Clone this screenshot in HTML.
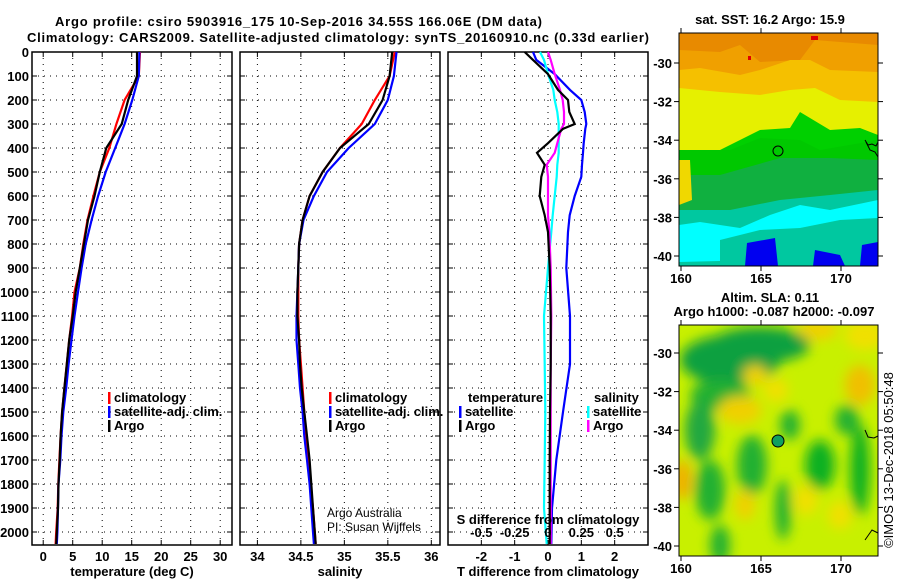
<!DOCTYPE html>
<html><head><meta charset="utf-8">
<style>
html,body{margin:0;padding:0;background:#fff;}
svg{display:block;font-family:"Liberation Sans",Arial,sans-serif;}
.b{font-weight:bold;font-size:13px;}
</style></head>
<body>
<svg id="s" width="900" height="580" viewBox="0 0 900 580" xmlns="http://www.w3.org/2000/svg">
<defs>
<filter id="blur" x="-20%" y="-20%" width="140%" height="140%"><feGaussianBlur stdDeviation="6"/></filter>
<clipPath id="c1"><rect x="679" y="33" width="199" height="233"/></clipPath>
<clipPath id="c2"><rect x="679" y="325" width="199" height="231"/></clipPath>
</defs>
<text class="b" x="55" y="26" font-size="14" textLength="487">Argo profile: csiro 5903916_175 10-Sep-2016 34.55S 166.06E (DM data)</text>
<text class="b" x="27" y="42" font-size="14" textLength="622">Climatology: CARS2009. Satellite-adjusted climatology: synTS_20160910.nc (0.33d earlier)</text>

<!-- SST map -->
<g clip-path="url(#c1)">
<rect x="679" y="33" width="199" height="233" fill="#e88a00"/>
<polygon points="679,50 720,52 740,45 760,62 800,60 815,40 878,45 878,120 679,120" fill="#f0a000"/>
<polygon points="679,70 700,68 740,75 760,70 790,60 810,60 830,70 878,72 878,140 679,140" fill="#f5c000"/>
<polygon points="679,88 720,92 760,95 790,90 815,88 840,100 878,102 878,160 679,160" fill="#e6f000"/>
<polygon points="679,170 700,160 760,130 790,128 800,112 830,130 860,128 878,135 878,266 679,266" fill="#00d000"/>
<polygon points="679,150 730,150 760,138 800,140 820,150 878,140 878,266 679,266" fill="#00c800"/>
<polygon points="679,175 720,175 780,158 830,158 878,160 878,266 679,266" fill="#10b040"/>
<polygon points="679,160 690,160 692,200 679,205" fill="#f0d800"/>
<polygon points="679,210 730,210 780,200 830,195 878,190 878,266 679,266" fill="#00c8a0"/>
<polygon points="679,225 700,222 740,228 770,215 800,205 830,210 878,200 878,266 780,266 760,260 679,262" fill="#00ffff"/>
<polygon points="720,240 760,230 800,228 840,220 878,218 878,266 720,266" fill="#00c8a0"/>
<polygon points="745,266 747,243 775,238 778,266" fill="#0000f0"/>
<polygon points="813,266 815,250 840,255 845,266" fill="#0000f0"/>
<polygon points="860,266 862,245 878,242 878,266" fill="#0000f0"/>
<rect x="748" y="56" width="3" height="4" fill="#e00000"/>
<rect x="811" y="36" width="7" height="4" fill="#e00000"/>
</g>
<rect x="679" y="33" width="199" height="233" fill="none" stroke="#000"/>
<path d="M865,140 L868,145 L872,144 L876,146 L878,142 M866,142 L870,150 L875,152 L878,157" fill="none" stroke="#000"/>
<circle cx="778" cy="151" r="5" fill="none" stroke="#000"/>
<text class="b" x="770" y="24" text-anchor="middle">sat. SST: 16.2 Argo: 15.9</text>

<!-- SLA map -->
<g clip-path="url(#c2)">
<rect x="679" y="325" width="199" height="231" fill="#c8f000"/>
<g filter="url(#blur)">
<ellipse cx="730" cy="360" rx="50" ry="25" fill="#10a040"/>
<ellipse cx="760" cy="345" rx="50" ry="18" fill="#10a040"/>
<ellipse cx="720" cy="395" rx="30" ry="15" fill="#20b030"/>
<ellipse cx="740" cy="410" rx="22" ry="14" fill="#f0d000"/>
<ellipse cx="755" cy="375" rx="12" ry="10" fill="#f0d000"/>
<ellipse cx="776" cy="390" rx="12" ry="12" fill="#f0e000"/>
<ellipse cx="700" cy="430" rx="15" ry="30" fill="#20a840"/>
<ellipse cx="752" cy="465" rx="15" ry="30" fill="#20b030"/>
<ellipse cx="820" cy="465" rx="15" ry="25" fill="#10b020"/>
<ellipse cx="860" cy="470" rx="10" ry="45" fill="#10b020"/>
<ellipse cx="847" cy="420" rx="12" ry="15" fill="#20b030"/>
<ellipse cx="860" cy="385" rx="15" ry="20" fill="#f0c000"/>
<ellipse cx="682" cy="480" rx="10" ry="20" fill="#f0b000"/>
<ellipse cx="710" cy="490" rx="15" ry="30" fill="#20b030"/>
<ellipse cx="745" cy="505" rx="10" ry="15" fill="#f0d000"/>
<ellipse cx="806" cy="500" rx="12" ry="15" fill="#f0e000"/>
<ellipse cx="840" cy="515" rx="12" ry="14" fill="#f0e000"/>
<ellipse cx="783" cy="510" rx="8" ry="30" fill="#20b030"/>
<ellipse cx="720" cy="545" rx="10" ry="20" fill="#20b030"/>
<ellipse cx="790" cy="425" rx="10" ry="15" fill="#20b030"/>
<ellipse cx="865" cy="335" rx="20" ry="15" fill="#f0e000"/>
<ellipse cx="818" cy="330" rx="20" ry="10" fill="#f0d000"/>
</g>
</g>
<rect x="679" y="325" width="199" height="231" fill="none" stroke="#000"/>
<path d="M865,430 L868,437 L874,438 L878,436 M865,540 L872,530 L878,533" fill="none" stroke="#000"/>
<circle cx="778" cy="441" r="6" fill="#10a060" stroke="#000"/>
<text class="b" x="770" y="302" text-anchor="middle">Altim. SLA: 0.11</text>
<text class="b" x="774" y="316" text-anchor="middle">Argo h1000: -0.087 h2000: -0.097</text>
<text x="893" y="460" font-size="13" text-anchor="middle" transform="rotate(-90 893 460)" dy="0">©IMOS 13-Dec-2018 05:50:48</text>
<g id="maps"></g>
<g id="plots"></g>
</svg>
<script>
// ---- data ----
const depths = [0,100,200,300,400,500,600,700,800,900,1000,1100,1200,1300,1400,1500,1600,1700,1800,1900,2000,2050];
const tempArgo = [15.9,15.9,14.4,13.3,10.7,9.6,8.7,7.6,6.9,6.2,5.5,5.0,4.4,4.0,3.6,3.2,2.95,2.8,2.6,2.5,2.3,2.2];
const tempClim = [16.4,16.2,13.8,12.4,11.2,9.6,8.5,7.5,6.8,6.2,5.3,4.9,4.4,4.0,3.6,3.2,2.95,2.75,2.55,2.45,2.2,2.1];
const tempSat  = [16.3,16.2,15.1,13.8,12.2,10.6,9.3,8.2,7.2,6.5,5.9,5.3,4.8,4.3,3.9,3.4,3.1,2.9,2.6,2.5,2.4,2.3];
const salArgo = [35.55,35.52,35.44,35.28,34.95,34.75,34.60,34.52,34.48,34.47,34.46,34.46,34.48,34.49,34.51,34.54,34.57,34.60,34.62,34.64,34.66,34.67];
const salClim = [35.58,35.52,35.35,35.20,34.95,34.75,34.60,34.52,34.48,34.47,34.47,34.47,34.48,34.50,34.52,34.54,34.56,34.59,34.61,34.64,34.66,34.67];
const salSat  = [35.60,35.57,35.50,35.35,35.05,34.80,34.65,34.53,34.48,34.47,34.46,34.45,34.45,34.47,34.49,34.52,34.54,34.57,34.60,34.62,34.64,34.65];
const diffDepths = [0,33,92,158,200,250,300,320,380,420,470,520,600,680,750,900,1100,1300,1500,1700,1900,2050];
const dTArgo = [-0.7,-0.45,0,0.3,0.6,0.64,0.8,0.45,0,-0.33,-0.1,-0.2,-0.25,-0.1,0,0.05,0.08,0.08,0.06,0.05,0.05,0.05];
const dTSat  = [-0.45,-0.35,0.2,0.66,1.0,1.1,1.15,1.12,1.07,1.05,1.02,1.0,0.8,0.65,0.6,0.55,0.66,0.66,0.45,0.25,0.12,0.1];
const dSSat  = [-0.06,-0.03,0,0.04,0.05,0.07,0.08,0.08,0.08,0.08,0.07,0.065,0.05,0.035,0.025,0,-0.03,-0.025,-0.02,-0.025,-0.03,-0.01];
const dSArgo = [0,0.02,0.05,0.09,0.11,0.12,0.12,0.1,0.07,0.05,-0.01,0,0,0,0.01,0.02,0.025,0.02,0.02,0.02,0.02,0.02];
const depthTicks = [0,100,200,300,400,500,600,700,800,900,1000,1100,1200,1300,1400,1500,1600,1700,1800,1900,2000];
const tempTicks = [0,5,10,15,20,25,30];
const salTicks = [34,34.5,35,35.5,36];
const tdTicks = [-2,-1,0,1,2];
const sdTicks = [-0.5,-0.25,0,0.25,0.5];
const latTicks = [-30,-32,-34,-36,-38,-40];
const lonTicks = [160,165,170];

const NS='http://www.w3.org/2000/svg';
const g=document.getElementById('plots');
function mk(tag,at,parent){const e=document.createElementNS(NS,tag);for(const k in at)e.setAttribute(k,at[k]);(parent||g).appendChild(e);return e;}
const yTop=52,yBot=545,dMax=(yBot-yTop)/0.24;
function yD(d){return yTop+d*(yBot-yTop)/dMax;}
function lin(d0,d1,p0,p1){return v=>p0+(v-d0)*(p1-p0)/(d1-d0);}
const panels=[
 {x0:32,x1:232,sx:lin(-1.9,32,32,232),ticks:tempTicks,lab:'temperature (deg C)',name:'temperature'},
 {x0:240,x1:440,sx:lin(33.8,36.1,240,440),ticks:salTicks,lab:'salinity',name:'salinity'},
 {x0:448,x1:648,sx:lin(-3,3,448,648),ticks:tdTicks,lab:'T difference from climatology',name:'difference'}
];
panels.forEach((p,i)=>{
  const grp=mk('g',{});
  
  
  depthTicks.forEach(d=>{
    const l=mk('line',{x1:p.x0,x2:p.x1,y1:yD(d),y2:yD(d),stroke:'#000','stroke-dasharray':'1,5','stroke-width':1},grp);
    
    
    mk('line',{x1:p.x0,x2:p.x0+5,y1:yD(d),y2:yD(d),stroke:'#000'},grp);
    mk('line',{x1:p.x1-5,x2:p.x1,y1:yD(d),y2:yD(d),stroke:'#000'},grp);
    if(i===0){
      const t=mk('text',{x:29,y:yD(d)+5,'text-anchor':'end',class:'b'},grp);
      t.textContent=d;
      
      
    }
  });
  p.ticks.forEach(v=>{
    const x=p.sx(v);
    const l=mk('line',{x1:x,x2:x,y1:yTop,y2:yBot,stroke:'#000','stroke-dasharray':'1,5'},grp);
    
    
    mk('line',{x1:x,x2:x,y1:yBot-5,y2:yBot,stroke:'#000'},grp);
    mk('line',{x1:x,x2:x,y1:yTop,y2:yTop+5,stroke:'#000'},grp);
    const t=mk('text',{x:x,y:561,'text-anchor':'middle',class:'b'},grp);
    t.textContent=v;
    
    
  });
  const fr=mk('rect',{x:p.x0,y:yTop,width:p.x1-p.x0,height:yBot-yTop,fill:'none',stroke:'#000','stroke-width':1.5},grp);
  
  
  const xl=mk('text',{x:(p.x0+p.x1)/2,y:576,'text-anchor':'middle',class:'b'},grp);
  xl.textContent=p.lab;
  
  
});
function line(xs,ds,sx,color,name){
  const pts=xs.map((v,k)=>sx(v).toFixed(1)+','+yD(ds[k]).toFixed(1)).join(' ');
  const e=mk('polyline',{points:pts,fill:'none',stroke:color,'stroke-width':2.2});
  
  
}
const P=panels;
line(tempClim,depths,P[0].sx,'#f00','temp-climatology-line');
line(tempSat,depths,P[0].sx,'#00f','temp-satellite-line');
line(tempArgo,depths,P[0].sx,'#000','temp-argo-line');
line(salClim,depths,P[1].sx,'#f00','sal-climatology-line');
line(salSat,depths,P[1].sx,'#00f','sal-satellite-line');
line(salArgo,depths,P[1].sx,'#000','sal-argo-line');
const sdx=lin(-0.75,0.75,448,648);
line(dTSat,diffDepths,P[2].sx,'#00f','tdiff-satellite-line');
line(dSSat,diffDepths,sdx,'#0ff','sdiff-satellite-line');
line(dSArgo,diffDepths,sdx,'#f0f','sdiff-argo-line');
line(dTArgo,diffDepths,P[2].sx,'#000','tdiff-argo-line');
// S difference axis labels
sdTicks.forEach(v=>{
  const t=mk('text',{x:sdx(v),y:537,'text-anchor':'middle',class:'b'});
  t.textContent=v;
  
  
});
const st=mk('text',{x:548,y:524,'text-anchor':'middle',class:'b'});
st.textContent='S difference from climatology';


// legends
function legend(x,y,color,label,name){
  const m=mk('rect',{x:x,y:y-10,width:2.5,height:12,fill:color});
  
  
  const t=mk('text',{x:x+6,y:y,class:'b'});
  t.textContent=label;
  
  
}
[[108,'#f00','climatology'],[108,'#00f','satellite-adj. clim.'],[108,'#000','Argo']].forEach((r,k)=>legend(r[0],402+k*14,r[1],r[2],'temp-legend-entry'));
[[329,'#f00','climatology'],[329,'#00f','satellite-adj. clim.'],[329,'#000','Argo']].forEach((r,k)=>legend(r[0],402+k*14,r[1],r[2],'sal-legend-entry'));
const lt=mk('text',{x:468,y:402,class:'b'});lt.textContent='temperature';


const ls=mk('text',{x:594,y:402,class:'b'});ls.textContent='salinity';


legend(459,416,'#00f','satellite','tdiff-legend-entry');
legend(459,430,'#000','Argo','tdiff-legend-entry');
legend(587,416,'#0ff','satellite','sdiff-legend-entry');
legend(587,430,'#f0f','Argo','sdiff-legend-entry');
const c1=mk('text',{x:327,y:517,'font-size':12});c1.textContent='Argo Australia';


const c2=mk('text',{x:327,y:531,'font-size':12});c2.textContent='PI: Susan Wijffels';


// map axes
const mg=document.getElementById('maps');
const lonX=lin(160,165,681,761);
[[33,266,-30,63,-40,256],[325,556,-30,353,-40,546]].forEach((m,k)=>{
  const latY=lin(m[2],m[4],m[3],m[5]);
  latTicks.forEach(v=>{
    const y=latY(v);
    mk('line',{x1:674,x2:679,y1:y,y2:y,stroke:'#000'},mg);
    mk('line',{x1:878,x2:883,y1:y,y2:y,stroke:'#000'},mg);
    const t=mk('text',{x:672,y:y+5,'text-anchor':'end',class:'b'},mg);
    t.textContent=v;
    
    
  });
  lonTicks.forEach(v=>{
    const x=lonX(v);
    mk('line',{x1:x,x2:x,y1:m[1],y2:m[1]+5,stroke:'#000'},mg);
    mk('line',{x1:x,x2:x,y1:m[0]-5,y2:m[0],stroke:'#000'},mg);
    const t=mk('text',{x:x,y:m[1]+17,'text-anchor':'middle',class:'b'},mg);
    t.textContent=v;
    
    
  });
});
</script>
</body></html>
